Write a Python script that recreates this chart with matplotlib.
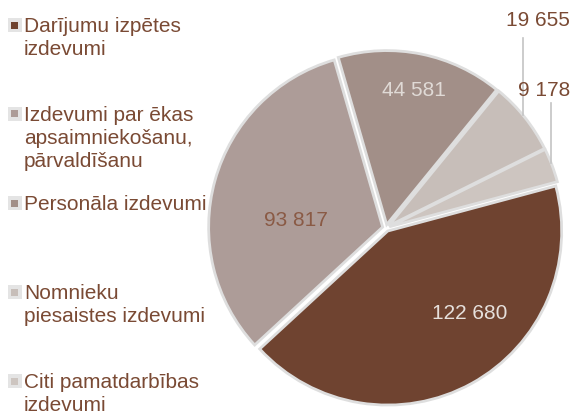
import matplotlib
matplotlib.use("Agg")
import matplotlib.pyplot as plt
from matplotlib.patches import Rectangle

# data
categories = [
    "Darījumu izpētes\nizdevumi",
    "Izdevumi par ēkas\napsaimniekošanu,\npārvaldīšanu",
    "Personāla izdevumi",
    "Nomnieku\npiesaistes izdevumi",
    "Citi pamatdarbības\nizdevumi",
]
values = [122680, 93817, 44581, 19655, 9178]
value_labels = ["122 680", "93 817", "44 581", "19 655", "9 178"]
colors = ["#6f4330", "#ad9c98", "#a28f88", "#c7beb9", "#cdc5c0"]

TEXT = "#7a4a34"
EDGE = "#dedede"
plt.rcParams["font.family"] = ["Liberation Sans", "DejaVu Sans"]

W, H = 574, 412
fig = plt.figure(figsize=(W / 100, H / 100), dpi=100)

# pie axes spans the whole figure, 1 data unit = R px
cx, cy, R = 386, 228, 174
ax = fig.add_axes([0, 0, 1, 1])

wedges, _ = ax.pie(values, colors=colors, startangle=15, counterclock=False,
                   radius=1, explode=[0.02] * len(values),
                   wedgeprops=dict(edgecolor=EDGE, linewidth=2.0))
ax.set_aspect("auto")
ax.set_xlim(-cx / R, (W - cx) / R)
ax.set_ylim(-(H - cy) / R, cy / R)
ax.axis("off")

# label placement (layout) and colours
label_pos = [(0.483, -0.489), (-0.52, 0.043), (0.161, 0.79), (0.876, 1.19), (0.911, 0.79)]
label_col = ["#e6e0dc", "#8a5a45", "#e0dad6", TEXT, TEXT]
for (x, y), t, c in zip(label_pos, value_labels, label_col):
    ax.text(x, y, t, ha="center", va="center", fontsize=15, color=c)

# leader lines for the small slices
leaders = [(0.787, 1.092, 0.649), (0.948, 0.718, 0.374)]
for x, y0, y1 in leaders:
    ax.plot([x, x], [y0, y1], color="#c4c4c4", lw=1.2)

# legend drawn by hand, in pixel positions
def px(x, y):
    return x / W, 1 - y / H

for i, (lab, col) in enumerate(zip(categories, colors)):
    base = 32 + i * 89
    mx, my = px(7.5, base)
    fig.add_artist(Rectangle((mx, my), 14 / W, 14 / H, transform=fig.transFigure,
                             facecolor="#e4e4e4", edgecolor="none"))
    ix, iy = px(11, base - 3.5)
    fig.add_artist(Rectangle((ix, iy), 7 / W, 7 / H, transform=fig.transFigure,
                             facecolor=col, edgecolor="none"))
    for j, line in enumerate(lab.split("\n")):
        tx, ty = px(24, base + j * 23)
        fig.text(tx, ty, line, ha="left", va="baseline", fontsize=15, color=TEXT)

fig.savefig("out.png", dpi=100)
